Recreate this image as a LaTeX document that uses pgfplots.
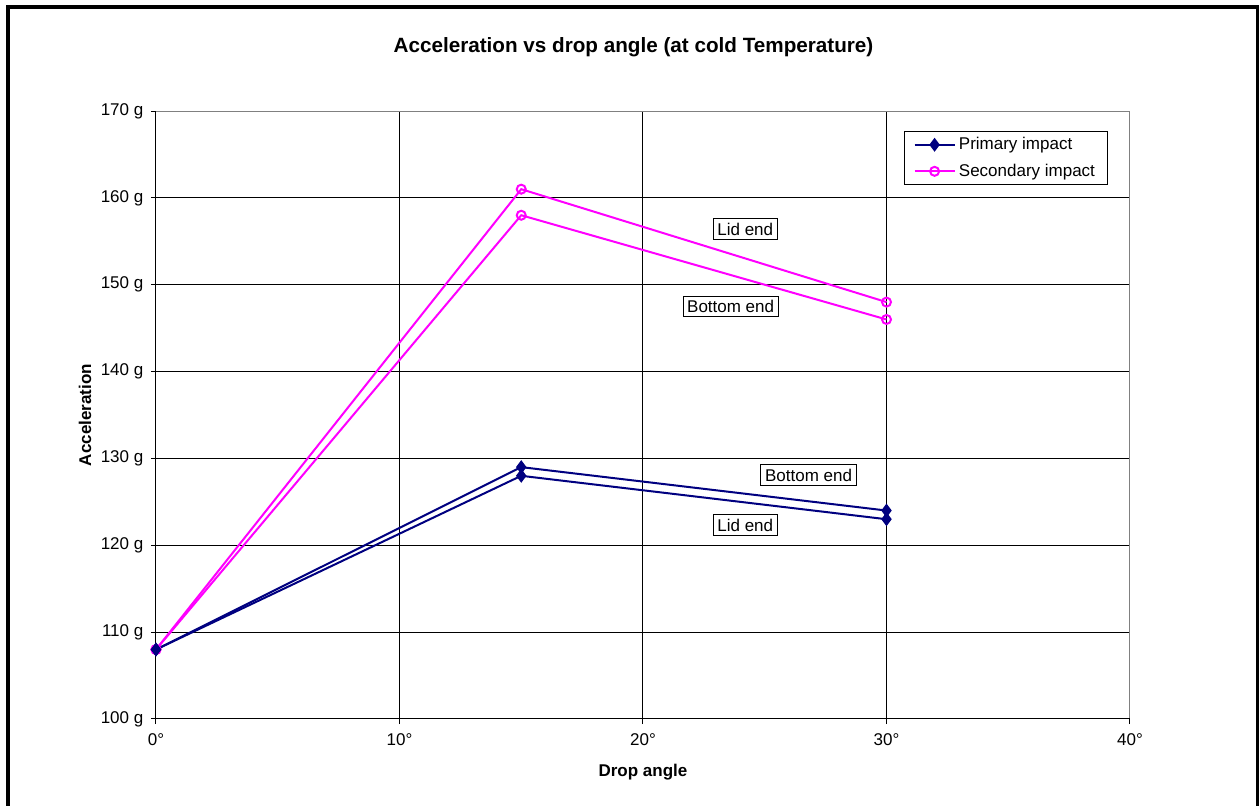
\documentclass[border=0pt]{standalone}
\usepackage{pgfplots}
\pgfplotsset{compat=1.18}
\usepackage{fontspec}
\setmainfont{Liberation Sans}
\definecolor{navy}{RGB}{0,0,128}
\definecolor{mag}{RGB}{255,0,255}
\definecolor{bordergray}{RGB}{128,128,128}
\begin{document}
\fontsize{10.2}{12}\selectfont
\begin{tikzpicture}[x=0.6pt,y=0.6pt]
\useasboundingbox (0,0) rectangle (1259,806);
\fill[white] (0,0) rectangle (1259,806);
\draw[line width=2.4pt] (8,-5) -- (8,799) -- (1257.5,799) -- (1257.5,-5);
\node[font=\fontsize{12.4}{14}\selectfont\bfseries] at (633.5,759) {Acceleration vs drop angle (at cold Temperature)};
\node[font=\fontsize{10.2}{12}\selectfont\bfseries] at (643,34) {Drop angle};
\node[font=\fontsize{10.2}{12}\selectfont\bfseries, rotate=90] at (85,391) {Acceleration};
\begin{axis}[
  at={(93.6pt,52.2pt)}, anchor=south west,
  scale only axis, width=584.4pt, height=364.8pt,
  xmin=0, xmax=40, ymin=100, ymax=170,
  xtick={0,10,20,30,40}, ytick={100,110,...,170},
  xtick pos=bottom, ytick pos=left,
  tick align=outside, major tick length=3pt,
  tick style={black, line width=0.6pt},
  axis line style={draw=none},
  grid=major, major grid style={black, line width=0.6pt},
  clip=false,
  /pgf/number format/assume math mode=true,
  ticklabel style={font=\fontsize{10.2}{12}\selectfont},
  xticklabel={\pgfmathprintnumber{\tick}°},
  yticklabel={\pgfmathprintnumber{\tick} g},
  xticklabel style={yshift=-2pt},
  yticklabel style={xshift=-1pt},
  legend style={at={(0.9774,0.9671)}, anchor=north east, draw=black, line width=0.6pt, fill=white,
    font=\fontsize{10.2}{12}\selectfont, row sep=3pt, inner xsep=5.5pt, inner ysep=1.5pt},
  legend cell align=left,
  reverse legend,
  legend image code/.code={\draw[mark repeat=2,mark phase=2,#1] plot coordinates {(0pt,0pt) (12pt,0pt) (24pt,0pt)};},
]
\draw[bordergray, line width=0.6pt] (rel axis cs:0,1) -- (rel axis cs:1,1) -- (rel axis cs:1,0);
\draw[black, line width=0.6pt] (rel axis cs:0,1) -- (rel axis cs:0,0) -- (rel axis cs:1,0);
\addplot[mag, line width=1.2pt, mark=o, mark size=2.7pt, mark options={fill=white}] coordinates {(0,108) (15,161) (30,148)};
\addlegendentry{Secondary impact}
\addplot[mag, line width=1.2pt, mark=o, mark size=2.7pt, mark options={fill=white}, forget plot] coordinates {(0,108) (15,158) (30,146)};
\addplot[navy, line width=1.2pt, mark=diamond*, mark size=3.2pt, mark options={fill=navy}] coordinates {(0,108) (15,129) (30,124)};
\addlegendentry{Primary impact}
\addplot[navy, line width=1.2pt, mark=diamond*, mark size=3.2pt, mark options={fill=navy}, forget plot] coordinates {(0,108) (15,128) (30,123)};
\node[draw=black, fill=white, line width=0.6pt, inner sep=2.5pt] at (axis cs:24.2,156.4) {Lid end};
\node[draw=black, fill=white, line width=0.6pt, inner sep=2.5pt] at (axis cs:23.6,147.5) {Bottom end};
\node[draw=black, fill=white, line width=0.6pt, inner sep=2.5pt] at (axis cs:26.8,128.1) {Bottom end};
\node[draw=black, fill=white, line width=0.6pt, inner sep=2.5pt] at (axis cs:24.2,122.3) {Lid end};
\end{axis}
\end{tikzpicture}
\end{document}
